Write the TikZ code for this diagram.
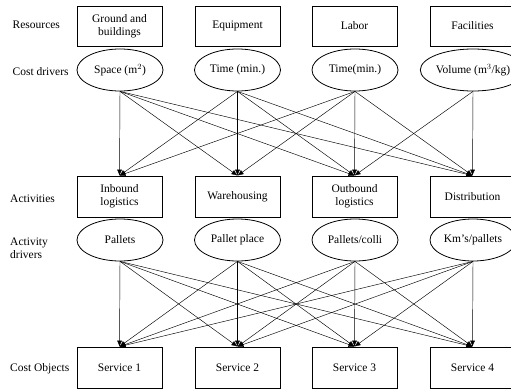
\documentclass[tikz,border=0pt]{standalone}
\usepackage{fontspec}
\setmainfont{Liberation Serif}
\usetikzlibrary{arrows.meta,shapes.geometric}
\begin{document}
\begin{tikzpicture}[x=1pt,y=-1pt,
  every node/.style={font=\fontsize{11.5}{13}\selectfont},
  box/.style={draw,line width=0.8pt,rectangle,minimum width=85pt,minimum height=40pt,inner sep=1pt,align=center},
  oval/.style={draw,line width=0.8pt,ellipse,minimum width=86pt,minimum height=42pt,inner sep=0pt,align=center},
  rowlabel/.style={anchor=west,align=left,inner sep=0pt},
  link/.style={line width=0.45pt,-{Latex[length=6pt,width=5pt]}}]
\useasboundingbox (0,0) rectangle (511,388);

% row labels
\node[rowlabel] (lres) at (12.5,25) {Resources};
\node[rowlabel] (lcd)  at (12.5,72) {Cost drivers};
\node[rowlabel] (lact) at (10,199) {Activities};
\node[rowlabel] (ladr) at (10,248) {Activity\\drivers};
\node[rowlabel] (lco)  at (10,369) {Cost Objects};

% resources
\node[box] (r1) at (119.5,26) {Ground and\\buildings};
\node[box] (r2) at (237.5,26) {Equipment};
\node[box] (r3) at (354.5,26) {Labor};
\node[box] (r4) at (472.5,26) {Facilities};

% cost drivers
\node[oval] (c1) at (120,70) {Space (m$^2$)};
\node[oval] (c2) at (237.5,70) {Time (min.)};
\node[oval] (c3) at (355,70) {Time(min.)};
\node[oval] (c4) at (473,70) {Volume (m$^3$/kg)};

% activities
\node[box,minimum height=41pt] (a1) at (119.5,196.5) {Inbound\\logistics};
\node[box,minimum height=41pt] (a2) at (237.5,196.5) {Warehousing};
\node[box,minimum height=41pt] (a3) at (354.5,196.5) {Outbound\\logistics};
\node[box,minimum height=41pt] (a4) at (472.5,196.5) {Distribution};

% activity drivers
\node[oval] (d1) at (120,240) {Pallets};
\node[oval] (d2) at (237.5,240) {Pallet place};
\node[oval] (d3) at (355,240) {Pallets/colli};
\node[oval] (d4) at (473,240) {Km’s/pallets};

% cost objects
\node[box,minimum height=41pt] (s1) at (119.5,367.5) {Service 1};
\node[box,minimum height=41pt] (s2) at (237.5,367.5) {Service 2};
\node[box,minimum height=41pt] (s3) at (354.5,367.5) {Service 3};
\node[box,minimum height=41pt] (s4) at (472.5,367.5) {Service 4};

% cost drivers to activities
\foreach \i in {1,2,3}{
  \foreach \j in {1,2,3,4}{
    \draw[link] (c\i.south) -- (a\j.north);
  }
}
\draw[link] (c4.south) -- (a3.north);
\draw[link] (c4.south) -- (a4.north);

% activity drivers to cost objects
\foreach \i in {1,2,3,4}{
  \foreach \j in {1,2,3,4}{
    \draw[link] (d\i.south) -- (s\j.north);
  }
}
\end{tikzpicture}
\end{document}
